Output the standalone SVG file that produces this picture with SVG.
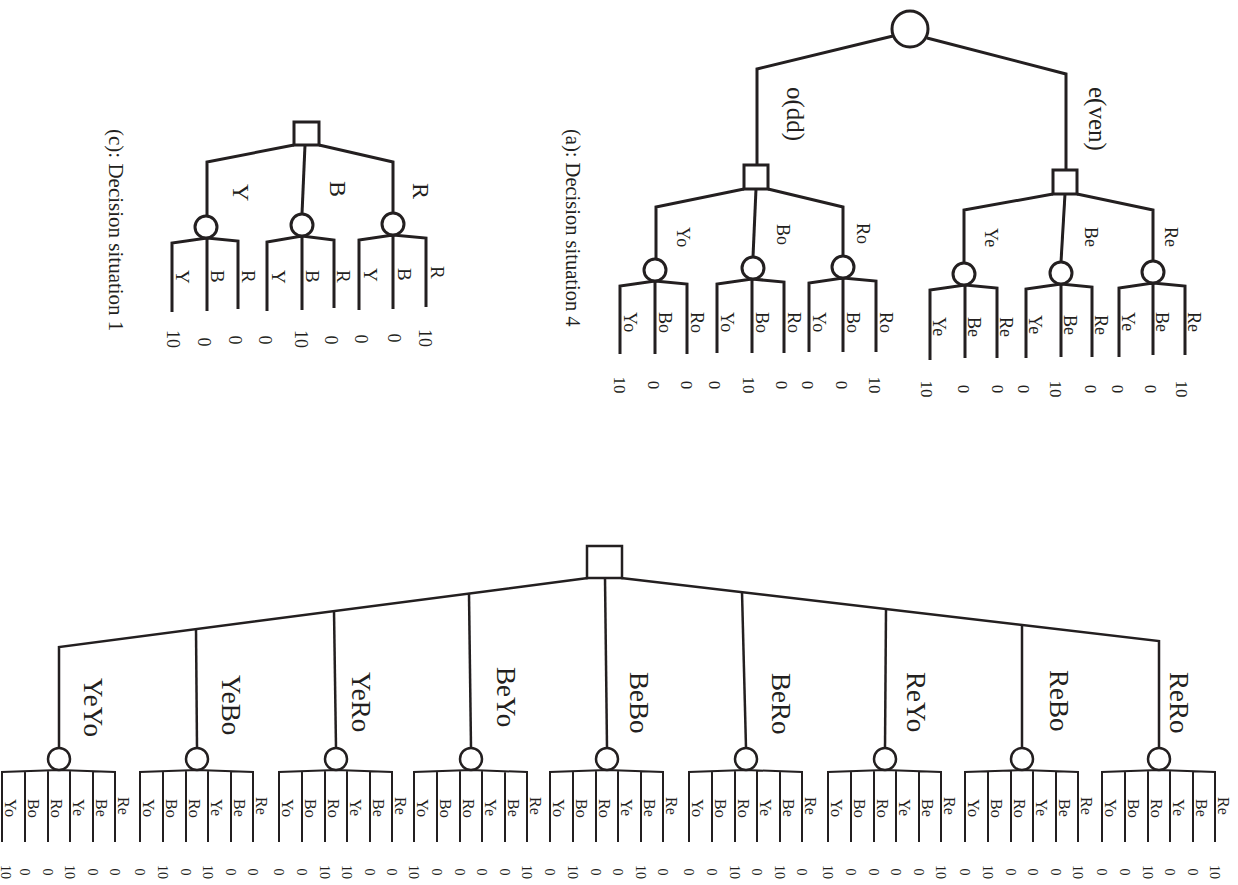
<svg xmlns="http://www.w3.org/2000/svg" width="1238" height="885" viewBox="0 0 1238 885">
<style>
.e{fill:none;stroke:#231f20;stroke-width:3;stroke-linejoin:miter}
.eb{fill:none;stroke:#231f20;stroke-width:2.5}
.el{fill:none;stroke:#231f20;stroke-width:2}
.n{fill:#fff;stroke:#231f20;stroke-width:3}
.nb{fill:#fff;stroke:#231f20;stroke-width:2.5}
text{font-family:"Liberation Serif","Times New Roman",serif;fill:#231f20}
.v{text-anchor:middle}
.f14{font-size:14px}.f16{font-size:16px}.f17{font-size:17px}.f18{font-size:18px}.f19{font-size:19px}.f20{font-size:20.5px}.f21{font-size:21px}.f24{font-size:24px}.f25{font-size:25px}.f27{font-size:27px}
</style>
<rect width="1238" height="885" fill="#fff"/>

<g id="connectors">
  <!-- tree (a) -->
  <path class="e" d="M893,36 L757,69 V165"/>
  <path class="e" d="M927,38 L1066,74 V170"/>
  <path class="e" d="M744,189 L656,207 V259"/>
  <path class="e" d="M756,189 L753,257"/>
  <path class="e" d="M768,189 L843,207 V256"/>
  <path class="e" d="M1053,194 L964,210 V263"/>
  <path class="e" d="M1065,194 L1061,262"/>
  <path class="e" d="M1077,194 L1153,210 V261"/>
  <path class="e" d="M620,354 V286 L655,281 L687,284 V354 M655,281 V354"/>
  <path class="e" d="M717,353 V284 L752,279 L784,282 V353 M752,279 V353"/>
  <path class="e" d="M809,352 V283 L843,278 L876,281 V352 M843,278 V352"/>
  <path class="e" d="M930,360 V290 L965,285 L997,288 V358 M965,285 V358"/>
  <path class="e" d="M1026,358 V289 L1061,284 L1092,287 V357 M1061,284 V357"/>
  <path class="e" d="M1119,357 V288 L1153,283 L1185,286 V355 M1153,283 V355"/>
  <!-- tree (c) -->
  <path class="e" d="M294,145 L207,162 V216"/>
  <path class="e" d="M305,145 L302,214"/>
  <path class="e" d="M319,145 L393,162 V213"/>
  <path class="e" d="M172,312 V243 L207,238 L238,241 V309 M207,238 V311"/>
  <path class="e" d="M267,311 V242 L302,236 L334,240 V308 M302,236 V310"/>
  <path class="e" d="M359,310 V240 L393,235 L426,238 V307 M393,235 V309"/>
  <!-- bottom tree -->
  <path class="eb" d="M588,578 L59,647 V748"/>
  <path class="eb" d="M621,578 L1159,641 V748"/>
  <path class="eb" d="M196,629 L197,748"/>
  <path class="eb" d="M334,611 L336,748"/>
  <path class="eb" d="M469,594 L471,748"/>
  <path class="eb" d="M605,578 L607,748"/>
  <path class="eb" d="M742,592 L746,748"/>
  <path class="eb" d="M886,609 L885,748"/>
  <path class="eb" d="M1022,625 V748"/>
  <path class="el" d="M2,842 V772 L59,770 L115,772 V842 M25,772 V842 M48,771 V842 M70,771 V842 M93,772 V842"/>
  <path class="el" d="M140,842 V772 L197,770 L253,772 V842 M163,772 V842 M186,771 V842 M208,771 V842 M231,772 V842"/>
  <path class="el" d="M279,842 V772 L336,770 L392,772 V842 M302,772 V842 M325,771 V842 M347,771 V842 M370,772 V842"/>
  <path class="el" d="M414,842 V772 L471,770 L527,772 V842 M437,772 V842 M460,771 V842 M482,771 V842 M505,772 V842"/>
  <path class="el" d="M550,842 V772 L607,770 L663,772 V842 M573,772 V842 M596,771 V842 M618,771 V842 M641,772 V842"/>
  <path class="el" d="M689,842 V772 L746,770 L802,772 V842 M712,772 V842 M735,771 V842 M757,771 V842 M780,772 V842"/>
  <path class="el" d="M828,842 V772 L885,770 L941,772 V842 M851,772 V842 M874,771 V842 M896,771 V842 M919,772 V842"/>
  <path class="el" d="M965,842 V772 L1022,770 L1078,772 V842 M988,772 V842 M1011,771 V842 M1033,771 V842 M1056,772 V842"/>
  <path class="el" d="M1102,842 V772 L1159,770 L1215,772 V842 M1125,772 V842 M1148,771 V842 M1170,771 V842 M1193,772 V842"/>
</g>

<g id="nodes">
  <g id="a-root"><circle class="n" cx="910" cy="29" r="18"/></g>
  <g id="a-odd"><rect class="n" x="744" y="165" width="24" height="24"/></g>
  <g id="a-even"><rect class="n" x="1053" y="170" width="24" height="24"/></g>
  <g id="a-Yo"><circle class="n" cx="655" cy="270" r="11"/></g>
  <g id="a-Bo"><circle class="n" cx="753" cy="268" r="11"/></g>
  <g id="a-Ro"><circle class="n" cx="843" cy="267" r="11"/></g>
  <g id="a-Ye"><circle class="n" cx="964" cy="274" r="11"/></g>
  <g id="a-Be"><circle class="n" cx="1061" cy="273" r="11"/></g>
  <g id="a-Re"><circle class="n" cx="1153" cy="272" r="11"/></g>
  <g id="c-root"><rect class="n" x="294" y="122" width="25" height="23"/></g>
  <g id="c-Y"><circle class="n" cx="206" cy="227" r="11"/></g>
  <g id="c-B"><circle class="n" cx="302" cy="225" r="11"/></g>
  <g id="c-R"><circle class="n" cx="393" cy="224" r="11"/></g>
  <g id="b-root"><rect class="nb" x="587" y="546" width="35" height="32"/></g>
  <g id="b-YeYo"><circle class="nb" cx="59" cy="759" r="11"/></g>
  <g id="b-YeBo"><circle class="nb" cx="197" cy="759" r="11"/></g>
  <g id="b-YeRo"><circle class="nb" cx="336" cy="759" r="11"/></g>
  <g id="b-BeYo"><circle class="nb" cx="471" cy="759" r="11"/></g>
  <g id="b-BeBo"><circle class="nb" cx="607" cy="759" r="11"/></g>
  <g id="b-BeRo"><circle class="nb" cx="746" cy="759" r="11"/></g>
  <g id="b-ReYo"><circle class="nb" cx="885" cy="759" r="11"/></g>
  <g id="b-ReBo"><circle class="nb" cx="1022" cy="759" r="11"/></g>
  <g id="b-ReRo"><circle class="nb" cx="1159" cy="759" r="11"/></g>
</g>

<g id="texts" transform="rotate(90)">
  <!-- captions -->
  <text class="f20" x="129" y="-566">(a): Decision situation 4</text>
  <text class="f21" x="129" y="-109">(c): Decision situation 1</text>
  <!-- tree (a) labels -->
  <text class="f25" x="87" y="-787">o(dd)</text>
  <text class="f25" x="87" y="-1089">e(ven)</text>
  <text class="f18" x="227" y="-677">Yo</text>
  <text class="f18" x="224" y="-777">Bo</text>
  <text class="f18" x="223" y="-857">Ro</text>
  <text class="f18" x="228" y="-985">Ye</text>
  <text class="f18" x="227" y="-1085">Be</text>
  <text class="f18" x="227" y="-1165">Re</text>
  <text class="f18" x="312" y="-624">Yo</text><text class="f18" x="312" y="-659">Bo</text><text class="f18" x="312" y="-691">Ro</text>
  <text class="f18" x="312" y="-721">Yo</text><text class="f18" x="312" y="-756">Bo</text><text class="f18" x="312" y="-788">Ro</text>
  <text class="f18" x="312" y="-813">Yo</text><text class="f18" x="312" y="-847">Bo</text><text class="f18" x="312" y="-880">Ro</text>
  <text class="f18" x="317" y="-933">Ye</text><text class="f18" x="317" y="-968">Be</text><text class="f18" x="317" y="-1000">Re</text>
  <text class="f18" x="315" y="-1029">Ye</text><text class="f18" x="315" y="-1064">Be</text><text class="f18" x="315" y="-1095">Re</text>
  <text class="f18" x="312" y="-1122">Ye</text><text class="f18" x="312" y="-1156">Be</text><text class="f18" x="312" y="-1188">Re</text>
  <!-- tree (a) payoffs -->
  <g class="f17 v">
    <text x="385" y="-620" dy=".35em">10</text><text x="385" y="-654" dy=".35em">0</text><text x="385" y="-687" dy=".35em">0</text>
    <text x="385" y="-715" dy=".35em">0</text><text x="385" y="-749" dy=".35em">10</text><text x="385" y="-782" dy=".35em">0</text>
    <text x="385" y="-808" dy=".35em">0</text><text x="385" y="-842" dy=".35em">0</text><text x="385" y="-875" dy=".35em">10</text>
    <text x="389" y="-927" dy=".35em">10</text><text x="389" y="-964" dy=".35em">0</text><text x="389" y="-998" dy=".35em">0</text>
    <text x="389" y="-1024" dy=".35em">0</text><text x="389" y="-1056" dy=".35em">10</text><text x="389" y="-1091" dy=".35em">0</text>
    <text x="389" y="-1118" dy=".35em">0</text><text x="389" y="-1151" dy=".35em">0</text><text x="389" y="-1182" dy=".35em">10</text>
  </g>
  <!-- tree (c) labels -->
  <text class="f24" x="184" y="-233">Y</text>
  <text class="f24" x="181" y="-330">B</text>
  <text class="f24" x="183" y="-413">R</text>
  <text class="f19" x="270" y="-176">Y</text><text class="f19" x="270" y="-211">B</text><text class="f19" x="270" y="-242">R</text>
  <text class="f19" x="270" y="-272">Y</text><text class="f19" x="270" y="-306">B</text><text class="f19" x="270" y="-337">R</text>
  <text class="f19" x="268" y="-364">Y</text><text class="f19" x="268" y="-398">B</text><text class="f19" x="266" y="-431">R</text>
  <g class="f18 v">
    <text x="339" y="-173" dy=".35em">10</text><text x="342" y="-204" dy=".35em">0</text><text x="340" y="-235" dy=".35em">0</text>
    <text x="340" y="-265" dy=".35em">0</text><text x="339" y="-301" dy=".35em">10</text><text x="340" y="-331" dy=".35em">0</text>
    <text x="339" y="-361" dy=".35em">0</text><text x="338" y="-394" dy=".35em">0</text><text x="338" y="-425" dy=".35em">10</text>
  </g>
  <!-- bottom tree branch labels -->
  <text class="f27" x="678" y="-84">YeYo</text>
  <text class="f27" x="675" y="-222">YeBo</text>
  <text class="f27" x="672" y="-352">YeRo</text>
  <text class="f27" x="667" y="-497">BeYo</text>
  <text class="f27" x="672" y="-630">BeBo</text>
  <text class="f27" x="673" y="-772">BeRo</text>
  <text class="f27" x="672" y="-907">ReYo</text>
  <text class="f27" x="670" y="-1050">ReBo</text>
  <text class="f27" x="672" y="-1170">ReRo</text>
  <!-- bottom tree leaf labels -->
  <g class="f16">
    <text x="799" y="-5">Yo</text><text x="799" y="-28">Bo</text><text x="799" y="-51">Ro</text><text x="799" y="-73">Ye</text><text x="799" y="-96">Be</text><text x="797" y="-118">Re</text>
    <text x="799" y="-143">Yo</text><text x="799" y="-166">Bo</text><text x="799" y="-189">Ro</text><text x="799" y="-211">Ye</text><text x="799" y="-234">Be</text><text x="797" y="-256">Re</text>
    <text x="799" y="-282">Yo</text><text x="799" y="-305">Bo</text><text x="799" y="-328">Ro</text><text x="799" y="-350">Ye</text><text x="799" y="-373">Be</text><text x="797" y="-395">Re</text>
    <text x="799" y="-417">Yo</text><text x="799" y="-440">Bo</text><text x="799" y="-463">Ro</text><text x="799" y="-485">Ye</text><text x="799" y="-508">Be</text><text x="797" y="-530">Re</text>
    <text x="799" y="-553">Yo</text><text x="799" y="-576">Bo</text><text x="799" y="-599">Ro</text><text x="799" y="-621">Ye</text><text x="799" y="-644">Be</text><text x="797" y="-666">Re</text>
    <text x="799" y="-692">Yo</text><text x="799" y="-715">Bo</text><text x="799" y="-738">Ro</text><text x="799" y="-760">Ye</text><text x="799" y="-783">Be</text><text x="797" y="-805">Re</text>
    <text x="799" y="-831">Yo</text><text x="799" y="-854">Bo</text><text x="799" y="-877">Ro</text><text x="799" y="-899">Ye</text><text x="799" y="-922">Be</text><text x="797" y="-944">Re</text>
    <text x="799" y="-968">Yo</text><text x="799" y="-991">Bo</text><text x="799" y="-1014">Ro</text><text x="799" y="-1036">Ye</text><text x="799" y="-1059">Be</text><text x="797" y="-1081">Re</text>
    <text x="799" y="-1105">Yo</text><text x="799" y="-1128">Bo</text><text x="799" y="-1151">Ro</text><text x="799" y="-1173">Ye</text><text x="799" y="-1196">Be</text><text x="797" y="-1218">Re</text>
  </g>
  <!-- bottom tree payoffs -->
  <g class="f14 v">
    <text x="872" y="-6" dy=".35em">10</text><text x="872" y="-25" dy=".35em">0</text><text x="872" y="-48" dy=".35em">0</text><text x="872" y="-70" dy=".35em">10</text><text x="872" y="-93" dy=".35em">0</text><text x="872" y="-115" dy=".35em">0</text>
    <text x="872" y="-140" dy=".35em">0</text><text x="872" y="-163" dy=".35em">10</text><text x="872" y="-186" dy=".35em">0</text><text x="872" y="-208" dy=".35em">10</text><text x="872" y="-231" dy=".35em">0</text><text x="872" y="-253" dy=".35em">0</text>
    <text x="872" y="-279" dy=".35em">0</text><text x="872" y="-302" dy=".35em">0</text><text x="872" y="-325" dy=".35em">10</text><text x="872" y="-347" dy=".35em">10</text><text x="872" y="-370" dy=".35em">0</text><text x="872" y="-392" dy=".35em">0</text>
    <text x="872" y="-414" dy=".35em">10</text><text x="872" y="-437" dy=".35em">0</text><text x="872" y="-460" dy=".35em">0</text><text x="872" y="-482" dy=".35em">0</text><text x="872" y="-505" dy=".35em">0</text><text x="872" y="-527" dy=".35em">10</text>
    <text x="872" y="-550" dy=".35em">0</text><text x="872" y="-573" dy=".35em">10</text><text x="872" y="-596" dy=".35em">0</text><text x="872" y="-618" dy=".35em">0</text><text x="872" y="-641" dy=".35em">10</text><text x="872" y="-663" dy=".35em">0</text>
    <text x="872" y="-689" dy=".35em">0</text><text x="872" y="-712" dy=".35em">0</text><text x="872" y="-735" dy=".35em">10</text><text x="872" y="-757" dy=".35em">0</text><text x="872" y="-780" dy=".35em">10</text><text x="872" y="-802" dy=".35em">0</text>
    <text x="872" y="-828" dy=".35em">10</text><text x="872" y="-851" dy=".35em">0</text><text x="872" y="-874" dy=".35em">0</text><text x="872" y="-896" dy=".35em">0</text><text x="872" y="-919" dy=".35em">0</text><text x="872" y="-941" dy=".35em">10</text>
    <text x="872" y="-965" dy=".35em">0</text><text x="872" y="-988" dy=".35em">10</text><text x="872" y="-1011" dy=".35em">0</text><text x="872" y="-1033" dy=".35em">0</text><text x="872" y="-1056" dy=".35em">0</text><text x="872" y="-1078" dy=".35em">10</text>
    <text x="872" y="-1102" dy=".35em">0</text><text x="872" y="-1125" dy=".35em">0</text><text x="872" y="-1148" dy=".35em">10</text><text x="872" y="-1170" dy=".35em">0</text><text x="872" y="-1193" dy=".35em">0</text><text x="872" y="-1215" dy=".35em">10</text>
  </g>
</g>
</svg>
